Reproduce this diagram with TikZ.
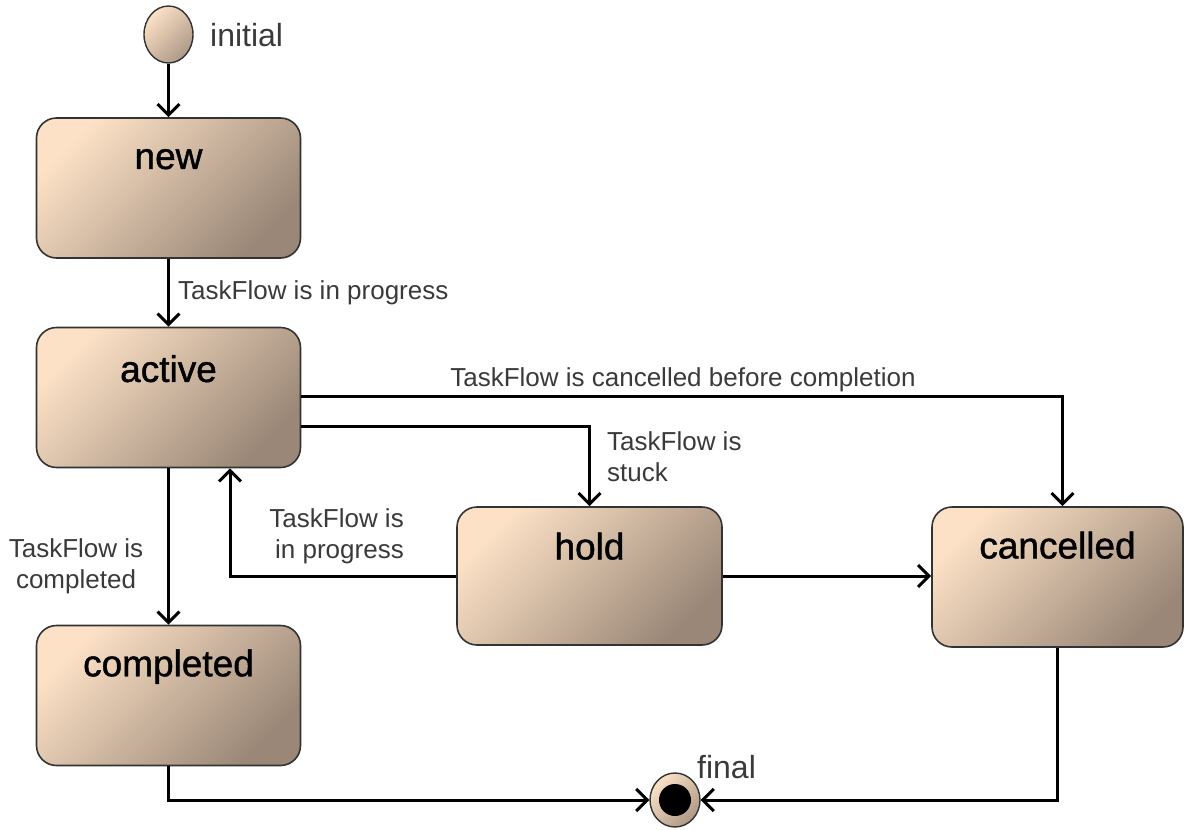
\documentclass[tikz,border=0pt]{standalone}
\usepackage{fontspec}
\setmainfont{Liberation Sans}
\newfontfamily\statefont{Liberation Sans}[FakeBold=1.2]
\usetikzlibrary{arrows.meta,shapes.geometric,calc}

\definecolor{stlight}{HTML}{FCE1C6}
\definecolor{stdark}{HTML}{9A8777}
\definecolor{stedge}{HTML}{333333}
\definecolor{lbl}{HTML}{3A3A3A}

\tikzset{
  statebox/.style={draw=stedge, line width=1.6pt, rounded corners=20pt,
    top color=stlight, bottom color=stdark, shading angle=45,
    minimum width=264pt, minimum height=140pt, inner sep=0pt},
  statename/.style={font=\statefont\fontsize{37}{42}\selectfont, text=black, inner sep=0pt},
  pseudo/.style={ellipse, draw=stedge, line width=1.4pt,
    top color=stlight, bottom color=stdark!80!stlight, shading angle=45, inner sep=0pt},
  pseudolabel/.style={font=\fontsize{32}{36}\selectfont, text=lbl, inner sep=0pt},
  trlabel/.style={font=\fontsize{26}{31}\selectfont, text=lbl, inner sep=0pt},
  arr/.style={draw=black, line width=3pt,
    -{Straight Barb[length=11pt,width=22pt,line width=3pt]}},
}

\begin{document}
\begin{tikzpicture}[x=1pt,y=-1pt]
\useasboundingbox (0,0) rectangle (1184,830);

% pseudo states
\node[pseudo, minimum width=49pt, minimum height=57pt] (init) at (168.5,34.5) {};
\node[pseudolabel, anchor=west] (initlbl) at (210,35) {initial};

\node[pseudo, minimum width=50pt, minimum height=54pt] (final) at (675,800) {};
\node[circle, fill=black, minimum size=32pt, inner sep=0pt] (finaldot) at (final.center) {};
\node[pseudolabel, anchor=west] (finallbl) at (697,767) {final};

% states
\node[statebox, minimum width=264pt, minimum height=140pt] (new) at (168.5,188) {};
\node[statename] (newt) at ($(new.north)+(0,42)$) {new};

\node[statebox, minimum width=264pt, minimum height=140pt] (active) at (168.5,397.5) {};
\node[statename] (activet) at ($(active.north)+(0,42)$) {active};

\node[statebox, minimum width=264pt, minimum height=140pt] (completed) at (168.5,695.5) {};
\node[statename] (completedt) at ($(completed.north)+(0,42)$) {completed};

\node[statebox, minimum width=265pt, minimum height=138pt] (hold) at (589.5,576) {};
\node[statename] (holdt) at ($(hold.north)+(0,40)$) {hold};

\node[statebox, minimum width=251pt, minimum height=140pt] (cancelled) at (1057.5,577) {};
\node[statename] (cancelledt) at ($(cancelled.north)+(0,39)$) {cancelled};

% transitions (yshift works on the page, so a negative value moves down)
\draw[arr] (init) -- (new);
\draw[arr] (new) -- (active);
\draw[arr] (active) -- (completed);
\draw[arr] ([yshift=1.5]active.east) -| ([xshift=5]cancelled.north);
\draw[arr] ([yshift=-28.5]active.east) -| (hold.north);
\draw[arr] (hold.west) -| ([xshift=61.5]active.south);
\draw[arr] (hold.east) -- (hold.east -| cancelled.west);
\draw[arr] (completed.south) |- (final.west);
\draw[arr] (cancelled.south) |- (final.east);

% transition labels
\node[trlabel, anchor=west] (l1) at (178,293) {TaskFlow is in progress};
\node[trlabel] (l2) at (683,380) {TaskFlow is cancelled before completion};
\node[trlabel, anchor=west, align=left] (l3) at (607,457) {TaskFlow is\\stuck};
\node[trlabel, anchor=east, align=right] (l4) at (404,536) {TaskFlow is\\in progress};
\node[trlabel, align=center] (l5) at (76,566) {TaskFlow is\\completed};
\end{tikzpicture}
\end{document}
